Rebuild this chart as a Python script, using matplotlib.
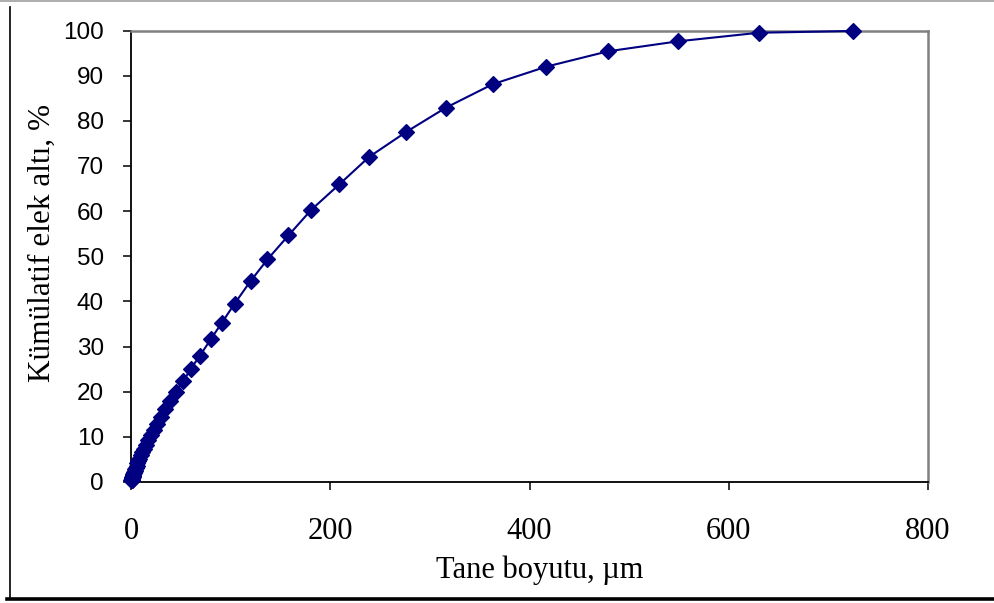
import matplotlib
matplotlib.use("Agg")
import matplotlib.pyplot as plt
from matplotlib.lines import Line2D

# cumulative undersize vs. particle size
tane_boyutu = [725, 630, 549, 479, 417, 363, 316, 276, 239, 209, 181, 158, 137,
               120, 104, 91, 80, 69, 60, 52.5, 45, 39, 34, 30, 26, 22.6, 19.7,
               17.1, 14.9, 13, 11.3, 9.8, 8.5, 7.4, 6.5, 5.6, 4.9, 4.3, 3.7,
               3.2, 2.8, 2.4, 2.1, 1.8, 1.6, 1.4, 1.2, 1.0, 0.9, 0.8, 0.7,
               0.6, 0.5]
elek_alti = [99.9, 99.5, 97.6, 95.4, 92.0, 88.1, 82.9, 77.5, 72.0, 65.9, 60.3,
             54.6, 49.3, 44.5, 39.5, 35.2, 31.6, 27.9, 25.1, 22.3, 20.0, 18.0,
             16.1, 14.4, 12.9, 11.6, 10.4, 9.3, 8.3, 7.4, 6.6, 5.9, 5.2, 4.6,
             4.1, 3.6, 3.2, 2.8, 2.5, 2.2, 1.9, 1.7, 1.5, 1.3, 1.1, 1.0, 0.85,
             0.75, 0.65, 0.55, 0.5, 0.4, 0.35]

x_ticks = [0, 200, 400, 600, 800]
y_ticks = list(range(0, 101, 10))

serif = "Liberation Serif"
sans = "Liberation Sans"
navy = "#000080"

fig = plt.figure(figsize=(9.95, 6.03), dpi=100)
W, H = 995, 603
ax = fig.add_axes([131 / W, (H - 482) / H, (928 - 131) / W, (482 - 30.5) / H])

ax.plot(tane_boyutu, elek_alti, color=navy, lw=1.5, marker="D", ms=8,
        mfc=navy, mec=navy, mew=0.9, clip_on=False, zorder=5)

ax.set_xlim(0, 800)
ax.set_ylim(0, 100)
ax.set_xticks(x_ticks)
ax.set_yticks(y_ticks)

for s in ("left", "bottom"):
    ax.spines[s].set_color("black")
    ax.spines[s].set_linewidth(1.3)
for s in ("top", "right"):
    ax.spines[s].set_color("#808080")
    ax.spines[s].set_linewidth(1.8)

ax.tick_params(axis="x", direction="out", length=6, width=1.1, pad=19,
               labelsize=22)
ax.tick_params(axis="y", direction="out", length=6, width=1.1, pad=13.5,
               labelsize=17.5)
for lbl in ax.get_xticklabels():
    lbl.set_fontfamily(serif)
for lbl in ax.get_yticklabels():
    lbl.set_fontfamily(sans)

fig.text(540 / W, 1 - 570 / H, "Tane boyutu, µm", family=serif, fontsize=22,
         ha="center", va="center")
fig.text(42 / W, 1 - 243 / H, "Kümülatif elek altı, %", family=serif,
         fontsize=22.5, rotation=90, ha="center", va="center")

# frame around the chart
fig.add_artist(Line2D([0, 1], [1 - 0.5 / H, 1 - 0.5 / H], color="#a0a0a0", lw=1.2))
fig.add_artist(Line2D([10 / W, 10 / W], [1 - 7 / H, 1 - 599 / H], color="black", lw=1.2))
fig.add_artist(Line2D([7 / W, 1], [1 - 599 / H, 1 - 599 / H], color="black", lw=2.6))

fig.savefig("out.png", dpi=100)
